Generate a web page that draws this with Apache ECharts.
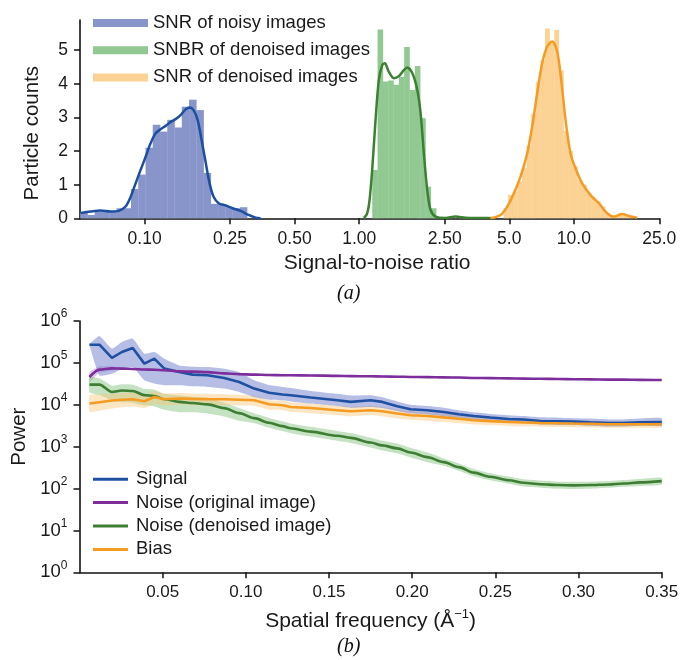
<!DOCTYPE html>
<html>
<head>
<meta charset="utf-8">
<script src="https://cdn.jsdelivr.net/npm/echarts@6/dist/echarts.min.js"></script>
<style>
html,body{margin:0;padding:0;background:#fff;}
#chart{width:682px;height:660px;}
</style>
</head>
<body>
<div id="chart"></div>
<script>
// ---------- Panel (a): SNR histograms ----------
const snrTicks = [0.1, 0.25, 0.5, 1, 2.5, 5, 10, 25];
const snrTickLabels = ['0.10', '0.25', '0.50', '1.00', '2.50', '5.0', '10.0', '25.0'];
const countTicks = [0, 1, 2, 3, 4, 5];
const histNames = ['SNR of noisy images', 'SNBR of denoised images', 'SNR of denoised images'];

const noisyEdges = [0.0501, 0.0542, 0.0586, 0.0633, 0.0684, 0.0740, 0.0800, 0.0864, 0.0934, 0.1010, 0.1091, 0.1180,
  0.1275, 0.1378, 0.1490, 0.1611, 0.1741, 0.1882, 0.2034, 0.2199, 0.2377, 0.2569, 0.2777, 0.3002];
const noisyHeights = [0.17, 0.1, 0.2, 0.22, 0.2, 0.3, 0.3, 0.87, 1.3, 2.1, 2.78, 2.58, 2.93, 2.7, 3.32, 3.53, 3.22,
  1.35, 0.43, 0.42, 0.33, 0.3, 0.33];
const noisyKdeX = [0.0503, 0.0560, 0.0624, 0.0694, 0.0757, 0.0815, 0.0861, 0.0908, 0.0958, 0.1011, 0.1066, 0.1125,
  0.1187, 0.1253, 0.1322, 0.1395, 0.1471, 0.1552, 0.1621, 0.1691, 0.1766, 0.1843, 0.1923, 0.2008, 0.2096, 0.2212,
  0.2384, 0.2570, 0.2800, 0.3050, 0.3289, 0.3470];
const noisyKdeY = [0.16, 0.2, 0.23, 0.2, 0.22, 0.35, 0.64, 1.04, 1.44, 1.83, 2.23, 2.53, 2.65, 2.75, 2.87, 2.95, 3.07,
  3.24, 3.3, 3.22, 2.93, 2.33, 1.68, 1.04, 0.64, 0.45, 0.38, 0.3, 0.22, 0.1, 0.02, 0];

const snbrEdges = [1.1495, 1.2169, 1.2885, 1.3641, 1.4443, 1.5291, 1.6191, 1.7141, 1.8149, 1.9214, 2.0343, 2.1538, 2.2803];
const snbrHeights = [1.44, 5.62, 4.07, 4.1, 3.97, 4.21, 5.1, 3.82, 4.53, 2.98, 0.94, 0.3];
const snbrKdeX = [1.050, 1.085, 1.115, 1.149, 1.191, 1.234, 1.280, 1.316, 1.373, 1.449, 1.529, 1.613, 1.673, 1.766,
  1.864, 1.931, 2.000, 2.074, 2.149, 2.267, 2.523, 2.809, 3.126, 3.673, 4.313];
const snbrKdeY = [0.01, 0.12, 0.5, 1.44, 2.93, 4.12, 4.56, 4.61, 4.36, 4.17, 4.23, 4.41, 4.49, 4.32, 3.82, 3.13, 1.93,
  0.84, 0.25, 0.05, 0.01, 0.05, 0.02, 0.01, 0];

const denEdges = [4.699, 4.938, 5.188, 5.452, 5.728, 6.019, 6.324, 6.645, 6.982, 7.336, 7.709, 8.100, 8.511, 8.943,
  9.397, 9.874, 10.375, 10.901, 11.455, 12.036, 12.647, 13.289, 13.964, 14.672, 15.417, 16.199, 17.022, 17.886, 18.793];
const denHeights = [0.3, 0.7, 0.8, 1.1, 1.5, 2.15, 3.1, 4.05, 4.7, 5.65, 5.2, 5.6, 4.4, 2.6, 2.0, 1.55, 1.15, 1.0,
  0.75, 0.6, 0.5, 0.35, 0.15, 0.05, 0.08, 0.15, 0.1, 0.05];
const denKdeX = [4.089, 4.551, 4.891, 5.250, 5.641, 6.061, 6.395, 6.746, 7.118, 7.509, 7.923, 8.358, 8.728, 9.140,
  9.643, 10.17, 10.93, 11.95, 13.06, 14.29, 15.34, 16.79, 18.02, 19.72];
const denKdeY = [0, 0.1, 0.35, 0.74, 1.24, 1.93, 2.73, 3.72, 4.61, 5.11, 5.26, 4.96, 4.12, 2.93, 1.93, 1.49, 1.04,
  0.69, 0.45, 0.15, 0.05, 0.13, 0.07, 0.02];

// ---------- Panel (b): power spectra ----------
const freqTicks = [0.05, 0.10, 0.15, 0.20, 0.25, 0.30, 0.35];
const powerTicks = [1, 10, 100, 1e3, 1e4, 1e5, 1e6];
const lineNames = ['Signal', 'Noise (original image)', 'Noise (denoised image)', 'Bias'];

const freq = [0.006, 0.012, 0.0195, 0.0255, 0.032, 0.039, 0.045, 0.051, 0.060, 0.068, 0.077, 0.087, 0.096, 0.105,
  0.114, 0.122, 0.127, 0.139, 0.155, 0.163, 0.175, 0.182, 0.191, 0.199, 0.209, 0.219, 0.228, 0.237, 0.247, 0.258,
  0.267, 0.277, 0.288, 0.297, 0.307, 0.318, 0.327, 0.337, 0.35];

const signal = [2.72e5, 2.72e5, 1.31e5, 1.82e5, 2.27e5, 9.6e4, 1.26e5, 7.3e4, 6.05e4, 5.25e4, 5.05e4, 4.36e4, 3.5e4,
  2.43e4, 1.93e4, 1.76e4, 1.69e4, 1.49e4, 1.28e4, 1.17e4, 1.28e4, 1.17e4, 9200, 7820, 7400, 6730, 5940, 5370, 4950,
  4590, 4440, 4110, 4050, 3980, 3830, 3680, 3680, 3830, 3890];
const signalUpper = [2.82e5, 4.37e5, 2.19e5, 3.14e5, 3.78e5, 1.66e5, 1.82e5, 1.26e5, 8.71e4, 8.13e4, 7.94e4, 7.29e4,
  6.05e4, 3.84e4, 2.95e4, 2.66e4, 2.51e4, 2.14e4, 1.82e4, 1.66e4, 1.69e4, 1.51e4, 1.2e4, 1e4, 9330, 8510, 7400, 6610,
  6030, 5620, 5370, 5010, 4900, 4790, 4680, 4470, 4470, 4680, 4790];
const signalLower = [2.63e5, 5.01e4, 5.5e4, 7.29e4, 7.94e4, 3.84e4, 3.2e4, 2.92e4, 2.92e4, 2.75e4, 2.66e4, 2.43e4,
  2.02e4, 1.53e4, 1.32e4, 1.28e4, 1.2e4, 1.07e4, 9330, 8510, 8870, 8320, 7080, 6170, 5890, 5370, 4790, 4370, 4070,
  3800, 3670, 3390, 3310, 3310, 3160, 3020, 3020, 3160, 3160];

const noiseOrig = [4.6e4, 6.92e4, 7.41e4, 7.29e4, 7.16e4, 6.95e4, 6.84e4, 6.68e4, 6.31e4, 6.17e4, 6.03e4, 5.62e4,
  5.37e4, 5.25e4, 5.13e4, 5.07e4, 5.05e4, 5.01e4, 4.9e4, 4.84e4, 4.79e4, 4.73e4, 4.68e4, 4.62e4, 4.57e4, 4.52e4,
  4.47e4, 4.37e4, 4.32e4, 4.27e4, 4.22e4, 4.17e4, 4.12e4, 4.07e4, 4.03e4, 3.98e4, 3.98e4, 3.94e4, 3.89e4];
const noiseOrigUpper = [6.0e4, 8.3e4, 8.3e4, 7.9e4, 7.5e4, 7.3e4, 7.2e4, 7.0e4, 6.6e4, 6.5e4, 6.3e4, 5.9e4, 5.6e4,
  5.5e4, 5.4e4, 5.3e4, 5.3e4, 5.25e4, 5.15e4, 5.1e4, 5.0e4, 4.97e4, 4.9e4, 4.85e4, 4.8e4, 4.75e4, 4.7e4, 4.6e4,
  4.55e4, 4.5e4, 4.43e4, 4.38e4, 4.33e4, 4.28e4, 4.23e4, 4.18e4, 4.18e4, 4.14e4, 4.08e4];
const noiseOrigLower = [3.5e4, 5.8e4, 6.6e4, 6.8e4, 6.8e4, 6.6e4, 6.5e4, 6.35e4, 6.0e4, 5.85e4, 5.75e4, 5.35e4,
  5.1e4, 5.0e4, 4.87e4, 4.82e4, 4.8e4, 4.76e4, 4.66e4, 4.6e4, 4.55e4, 4.5e4, 4.45e4, 4.4e4, 4.35e4, 4.3e4, 4.25e4,
  4.15e4, 4.1e4, 4.05e4, 4.0e4, 3.96e4, 3.91e4, 3.87e4, 3.83e4, 3.78e4, 3.78e4, 3.74e4, 3.7e4];

const noiseDen = [3.03e4, 3.03e4, 2.02e4, 2.19e4, 2.14e4, 1.7e4, 1.62e4, 1.35e4, 1.17e4, 1.1e4, 1.02e4, 8320, 6310,
  4790, 3720, 3090, 2750, 2290, 1820, 1620, 1260, 1070, 912, 724, 562, 427, 324, 240, 191, 158, 137, 127, 121, 119,
  121, 125, 132, 140, 150];
const noiseDenUpper = [4.57e4, 4.27e4, 2.85e4, 3.09e4, 3.02e4, 2.4e4, 2.29e4, 1.82e4, 1.66e4, 1.55e4, 1.45e4, 1.12e4,
  8320, 6230, 4840, 4020, 3580, 2980, 2370, 2110, 1640, 1390, 1190, 940, 730, 519, 394, 292, 232, 193, 166, 155, 146,
  145, 146, 151, 160, 170, 182];
const noiseDenLower = [2.0e4, 1.7e4, 1.26e4, 1.15e4, 1.12e4, 9550, 9120, 7590, 6610, 6610, 6170, 5250, 4170, 3640,
  2830, 2350, 2090, 1740, 1380, 1230, 958, 813, 693, 550, 427, 351, 266, 197, 157, 130, 112, 105, 98.9, 97.7, 98.9,
  104, 110, 115, 123];

const bias = [1.07e4, 1.15e4, 1.26e4, 1.32e4, 1.35e4, 1.21e4, 1.53e4, 1.35e4, 1.41e4, 1.38e4, 1.36e4, 1.35e4, 1.32e4,
  1.28e4, 1.03e4, 9700, 8870, 8390, 7400, 7000, 7400, 7000, 6170, 5620, 5370, 5010, 4620, 4270, 4070, 3890, 3780,
  3680, 3610, 3560, 3510, 3430, 3430, 3430, 3430];
const biasUpper = [1.7e4, 1.78e4, 1.86e4, 1.91e4, 1.95e4, 1.74e4, 2.14e4, 1.86e4, 1.91e4, 1.86e4, 1.82e4, 1.78e4,
  1.74e4, 1.66e4, 1.29e4, 1.26e4, 1.15e4, 1.07e4, 9550, 9020, 9440, 8910, 7760, 7080, 6610, 6170, 5690, 5250, 5010,
  4730, 4570, 4420, 4320, 4270, 4170, 4070, 4070, 4070, 4070];
const biasLower = [6760, 7240, 8130, 8710, 9120, 8320, 1.05e4, 9550, 1.0e4, 9770, 9770, 9770, 9550, 9330, 7590, 7410,
  6760, 6310, 5620, 5310, 5620, 5310, 4680, 4320, 4120, 3890, 3630, 3390, 3240, 3130, 3050, 2990, 2950, 2920, 2880,
  2820, 2820, 2820, 2820];

// ---------- styling ----------
const FONT = '"Liberation Sans", Arial, sans-serif';
const histFill = ['#8795cb', '#92c992', '#fbd293'];
const kdeColor = ['#1c4fa0', '#3c8032', '#f59b22'];
const lineColor = ['#1f50a2', '#7d2e9b', '#3d7e33', '#f59b22'];
const bandColor = ['rgba(110,125,205,0.5)', 'rgba(160,110,190,0.35)', 'rgba(110,185,105,0.4)', 'rgba(250,195,115,0.42)'];

function pairs(xs, ys) { return xs.map((x, i) => [x, ys[i]]); }
function bins(edges, heights) { return heights.map((h, i) => [edges[i], edges[i + 1], h]); }

function histSeries(name, edges, heights, color) {
  return {
    type: 'custom', name: name, xAxisIndex: 0, yAxisIndex: 0,
    itemStyle: { color: color }, color: color,
    encode: { x: [0, 1], y: 2 },
    data: bins(edges, heights),
    renderItem: function (params, api) {
      const p0 = api.coord([api.value(0), api.value(2)]);
      const p1 = api.coord([api.value(1), 0]);
      return { type: 'rect', shape: { x: p0[0], y: p0[1], width: p1[0] - p0[0] + 0.3, height: p1[1] - p0[1] },
        style: { fill: color } };
    },
    z: 1
  };
}
function kdeSeries(xs, ys, color) {
  return { type: 'line', xAxisIndex: 0, yAxisIndex: 0, data: pairs(xs, ys), smooth: 0.3,
    showSymbol: false, lineStyle: { color: color, width: 2.5 }, z: 3, silent: true };
}
function bandSeries(upper, lower, color) {
  return {
    type: 'custom', xAxisIndex: 1, yAxisIndex: 1, silent: true, z: 1,
    data: freq.map((f, i) => [f, upper[i], lower[i]]),
    encode: { x: 0, y: [1, 2] },
    renderItem: function (params, api) {
      if (params.dataIndex !== 0) return null;
      const pts = [];
      for (let i = 0; i < freq.length; i++) pts.push(api.coord([freq[i], upper[i]]));
      for (let i = freq.length - 1; i >= 0; i--) pts.push(api.coord([freq[i], lower[i]]));
      return { type: 'polygon', shape: { points: pts, smooth: 0.15 }, style: { fill: color } };
    }
  };
}
function powerLine(name, ys, color, smooth) {
  return { type: 'line', name: name, xAxisIndex: 1, yAxisIndex: 1, data: pairs(freq, ys), showSymbol: false,
    smooth: smooth, smoothMonotone: 'x',
    color: color, itemStyle: { color: color }, lineStyle: { color: color, width: 2.6 }, z: 3 };
}

const axisLineStyle = { lineStyle: { color: '#111', width: 1.6 } };
const tickStyle = { inside: false, length: 6, lineStyle: { color: '#111', width: 1.5 } };
const labelBase = { color: '#1a1a1a', fontFamily: FONT, fontSize: 17.5, margin: 12 };

const option = {
  animation: false,
  backgroundColor: '#fff',
  textStyle: { fontFamily: FONT },
  title: [
    { text: '(a)', left: 337, top: 284, padding: 0,
      textStyle: { fontFamily: '"Liberation Serif", "DejaVu Serif", serif', fontStyle: 'italic', fontWeight: 'normal', fontSize: 20, color: '#111' } },
    { text: '(b)', left: 337, top: 637, padding: 0,
      textStyle: { fontFamily: '"Liberation Serif", "DejaVu Serif", serif', fontStyle: 'italic', fontWeight: 'normal', fontSize: 20, color: '#111' } }
  ],
  grid: [
    { left: 80, top: 20, right: 22.7, height: 198.3 },
    { left: 79.5, top: 321, right: 20.3, height: 251.3 }
  ],
  legend: [
    { data: histNames, orient: 'vertical', left: 93, top: 13.5, padding: 0, itemGap: 8.2, itemWidth: 55, itemHeight: 8,
      icon: 'rect', textStyle: { fontFamily: FONT, fontSize: 18.5, color: '#1a1a1a' }, selectedMode: false },
    { data: lineNames, orient: 'vertical', left: 93, top: 469.7, padding: 0, itemGap: 4.4, itemWidth: 35, itemHeight: 3,
      icon: 'rect', textStyle: { fontFamily: FONT, fontSize: 18.5, color: '#1a1a1a', padding: [0, 0, 0, 3] }, selectedMode: false }
  ],
  xAxis: [
    { type: 'log', logBase: 10, gridIndex: 0, min: 0.05, max: 25,
      name: 'Signal-to-noise ratio', nameLocation: 'middle', nameGap: 34,
      nameTextStyle: { fontFamily: FONT, fontSize: 21, color: '#1a1a1a', padding: [0, 0, 0, 15] },
      axisLine: axisLineStyle,
      axisTick: Object.assign({ customValues: snrTicks }, tickStyle),
      axisLabel: Object.assign({}, labelBase, { customValues: snrTicks,
        formatter: function (v) {
          for (let i = 0; i < snrTicks.length; i++) if (Math.abs(v - snrTicks[i]) < 1e-6 * snrTicks[i] + 1e-9) return snrTickLabels[i];
          return '';
        } }),
      splitLine: { show: false }, minorTick: { show: false } },
    { type: 'value', gridIndex: 1, min: 0, max: 0.35, interval: 0.05,
      name: 'Spatial frequency (Å{sup|−1})', nameLocation: 'middle', nameGap: 36,
      nameTextStyle: { fontFamily: FONT, fontSize: 21, color: '#1a1a1a',
        rich: { sup: { fontFamily: FONT, fontSize: 13, color: '#1a1a1a', padding: [0, 0, 12, 0] } } },
      axisLine: axisLineStyle,
      axisTick: Object.assign({ customValues: freqTicks }, tickStyle),
      axisLabel: Object.assign({}, labelBase, { fontSize: 17, customValues: freqTicks,
        formatter: function (v) { return v.toFixed(2); } }),
      splitLine: { show: false } }
  ],
  yAxis: [
    { type: 'value', gridIndex: 0, min: 0, max: 5.9,
      name: 'Particle counts', nameLocation: 'middle', nameGap: 37,
      nameTextStyle: { fontFamily: FONT, fontSize: 20.5, color: '#1a1a1a', padding: [0, 28, 0, 0] },
      axisLine: Object.assign({ show: true }, axisLineStyle),
      axisTick: Object.assign({ show: true, customValues: countTicks }, tickStyle),
      axisLabel: Object.assign({}, labelBase, { customValues: countTicks, formatter: function (v) { return String(v); } }),
      splitLine: { show: false } },
    { type: 'log', logBase: 10, gridIndex: 1, min: 1, max: 1e6,
      name: 'Power', nameLocation: 'middle', nameGap: 49,
      nameTextStyle: { fontFamily: FONT, fontSize: 20.5, color: '#1a1a1a', padding: [0, 0, 0, 20] },
      axisLine: Object.assign({ show: true }, axisLineStyle),
      axisTick: Object.assign({ show: true, customValues: powerTicks }, tickStyle),
      axisLabel: Object.assign({}, labelBase, { customValues: powerTicks,
        formatter: function (v) { return '{b|10}{sup|' + Math.round(Math.log10(v)) + '}'; },
        rich: { b: { fontFamily: FONT, fontSize: 18.5, color: '#1a1a1a' },
                sup: { fontFamily: FONT, fontSize: 12, color: '#1a1a1a', padding: [0, 0, 14, 0] } } }),
      splitLine: { show: false }, minorTick: { show: false } }
  ],
  series: [
    histSeries(histNames[0], noisyEdges, noisyHeights, histFill[0]),
    histSeries(histNames[1], snbrEdges, snbrHeights, histFill[1]),
    histSeries(histNames[2], denEdges, denHeights, histFill[2]),
    kdeSeries(noisyKdeX, noisyKdeY, kdeColor[0]),
    kdeSeries(snbrKdeX, snbrKdeY, kdeColor[1]),
    kdeSeries(denKdeX, denKdeY, kdeColor[2]),
    bandSeries(noiseOrigUpper, noiseOrigLower, bandColor[1]),
    bandSeries(noiseDenUpper, noiseDenLower, bandColor[2]),
    bandSeries(biasUpper, biasLower, bandColor[3]),
    bandSeries(signalUpper, signalLower, bandColor[0]),
    powerLine(lineNames[0], signal, lineColor[0], false),
    powerLine(lineNames[1], noiseOrig, lineColor[1], 0.3),
    powerLine(lineNames[2], noiseDen, lineColor[2], 0.3),
    powerLine(lineNames[3], bias, lineColor[3], false)
  ]
};

const chart = echarts.init(document.getElementById('chart'), null, { renderer: 'canvas' });
chart.setOption(option);
</script>
</body>
</html>
